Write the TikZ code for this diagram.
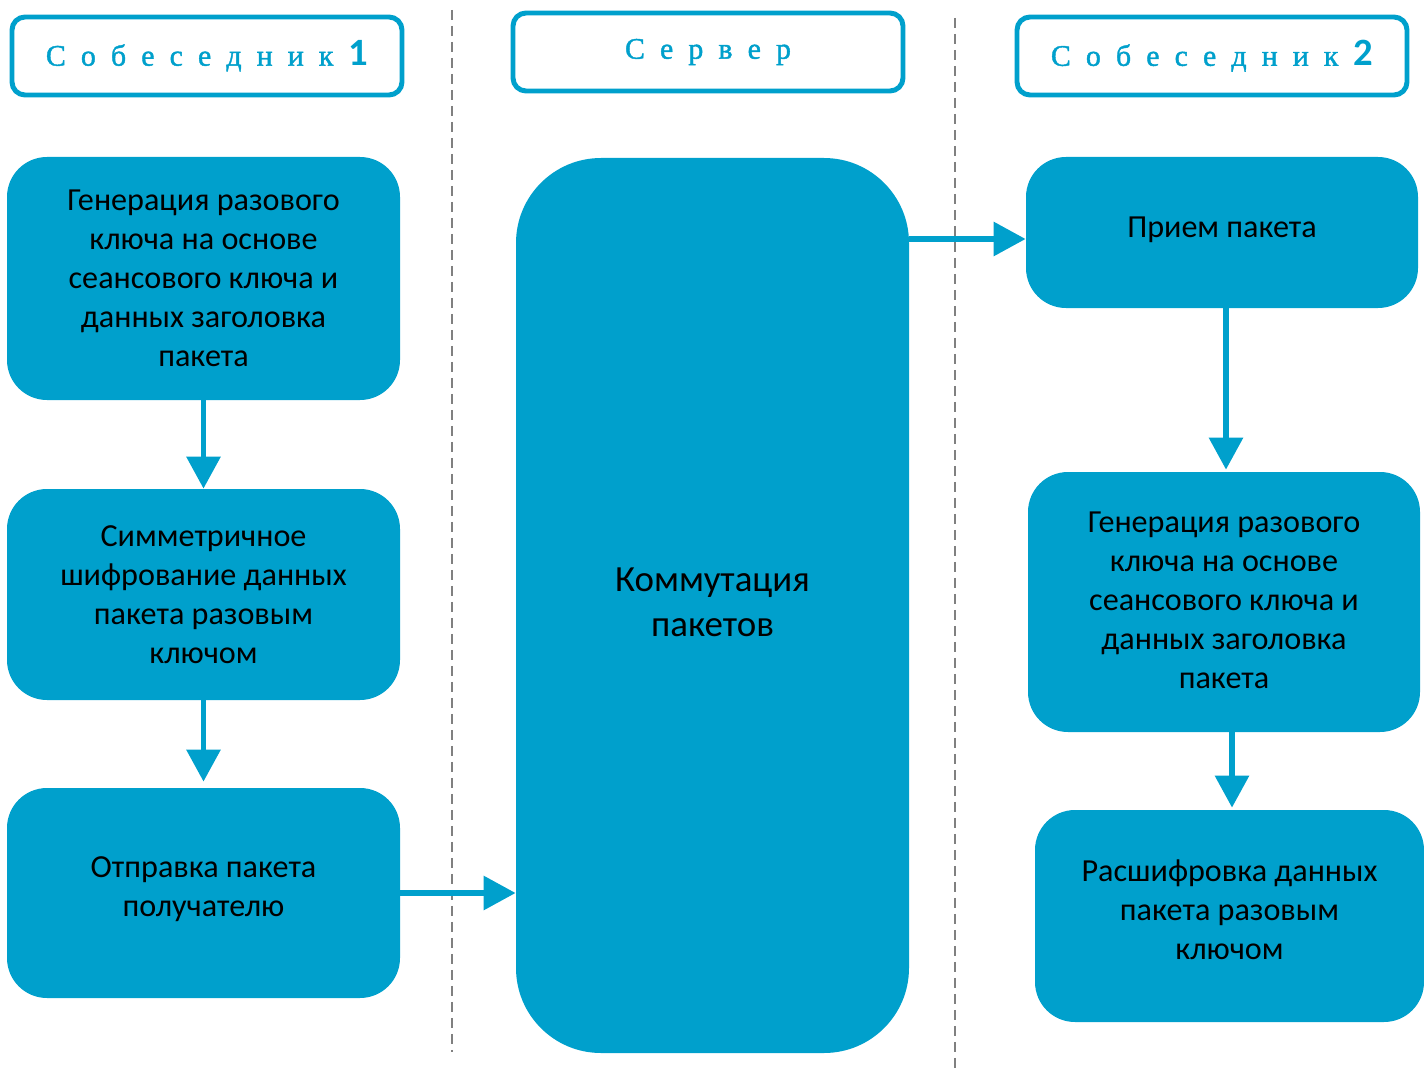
\documentclass[tikz,border=0pt]{standalone}
\usepackage{fontspec}
\setmainfont{Carlito}
\newfontfamily\headfont[FakeBold=1.4]{Liberation Serif}
\usetikzlibrary{arrows.meta}
\usetikzlibrary{positioning}
\definecolor{boxblue}{RGB}{0,160,204}
\definecolor{sepgray}{RGB}{128,128,128}
\newcommand{\pxu}{0.02cm}
\newcommand{\Tnum}[1]{\normalfont\bfseries\fontsize{22}{22}\selectfont #1}
\tikzstyle{head} = [draw=boxblue, line width=2.8pt, rounded corners=0.26cm, fill=white, minimum width=390*\pxu, minimum height=78*\pxu, inner sep=0pt, text=boxblue, font={\headfont\fontsize{17}{17}\selectfont\spaceskip=8.6pt\relax}]
\tikzstyle{stepbox} = [fill=boxblue, rounded corners=0.8cm, minimum width=393*\pxu, inner sep=0pt, align=center, font=\fontsize{18.3}{22.2}\selectfont]
\tikzstyle{flow} = [draw=boxblue, line width=3.4pt, -{Triangle[length=0.64cm, width=0.66cm]}]
\tikzstyle{sep} = [draw=sepgray, line width=1.1pt, dash pattern=on 0.2cm off 0.12cm]

\begin{document}
\begin{tikzpicture}[x=\pxu, y=-\pxu]
\useasboundingbox (0,0) rectangle (1424,1068);

% Separators
\draw[sep] (452,10) -- (452,1052);
\draw[sep] (955,18) -- (955,1068);

% Headers
\node[head] (h1) at (207,56)  {С о б е с е д н и к \Tnum{1}};
\node[head] (hs) at (708,52)  {С е р в е р};
\node[head] (h2) at (1212,56) {С о б е с е д н и к \Tnum{2}};

% Define nodes
\node[stepbox, minimum height=243*\pxu] (gen1) at (203.5,278.5) {Генерация разового\\ключа на основе\\сеансового ключа и\\данных заголовка\\пакета};
\node[stepbox, minimum height=211*\pxu] (enc)  at (203.5,594.5) {Симметричное\\шифрование данных\\пакета разовым\\ключом};
\node[stepbox, minimum height=210*\pxu, text depth=0.25cm] (send) at (203.5,893) {Отправка пакета\\получателю};

\node[stepbox, minimum height=895*\pxu, rounded corners=1.7cm, font=\fontsize{21}{25.5}\selectfont, text depth=0.12cm] (srv) at (712.5,605.5) {Коммутация\\пакетов};

\node[stepbox, minimum width=392*\pxu, minimum height=151*\pxu, text depth=0.2cm] (recv) at (1222,232.5) {Прием пакета};
\node[stepbox, minimum width=392*\pxu, minimum height=260*\pxu, text depth=0.08cm] (gen2) at (1224,602) {Генерация разового\\ключа на основе\\сеансового ключа и\\данных заголовка\\пакета};
\node[stepbox, minimum width=389*\pxu, minimum height=212*\pxu, text depth=0.25cm] (dec)  at (1229.5,916) {Расшифровка данных\\пакета разовым\\ключом};

% Edges
\draw[flow] (gen1.south) -- (enc.north);
\draw[flow] (enc.south) -- ([yshift=6*\pxu]send.north);
\draw[flow] (send.east) -- (send.east -| srv.west);
\draw[flow] ([yshift=-6.5*\pxu]srv.east |- recv.west) -- ([yshift=-6.5*\pxu]recv.west);
\draw[flow] ([xshift=4*\pxu]recv.south) -- ([xshift=4*\pxu,yshift=2*\pxu]recv.south |- gen2.north);
\draw[flow] ([xshift=8*\pxu]gen2.south) -- ([xshift=8*\pxu,yshift=2*\pxu]gen2.south |- dec.north);
\end{tikzpicture}
\end{document}
